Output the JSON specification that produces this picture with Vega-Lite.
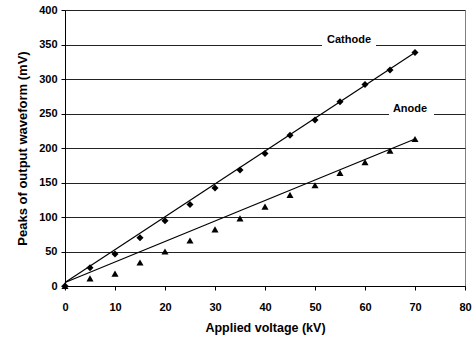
{
  "$schema": "https://vega.github.io/schema/vega-lite/v6.json",
  "width": 400,
  "height": 276,
  "autosize": {"type": "none"},
  "padding": {"left": 65, "top": 10, "right": 9, "bottom": 55},
  "background": "white",
  "config": {
    "font": "Liberation Sans",
    "view": {"stroke": "#808080", "strokeWidth": 1},
    "axis": {
      "labelFont": "Liberation Sans",
      "labelFontWeight": "bold",
      "labelFontSize": 11,
      "labelColor": "#000",
      "labelFlush": false,
      "titleFont": "Liberation Sans",
      "titleFontWeight": "bold",
      "titleColor": "#000",
      "domainColor": "#000",
      "tickColor": "#000",
      "tickSize": 4
    }
  },
  "datasets": {
    "points": [
      {"voltage": 0, "peak": 0, "electrode": "Cathode"},
      {"voltage": 5, "peak": 26.5, "electrode": "Cathode"},
      {"voltage": 10, "peak": 46.5, "electrode": "Cathode"},
      {"voltage": 15, "peak": 70, "electrode": "Cathode"},
      {"voltage": 20, "peak": 94.5, "electrode": "Cathode"},
      {"voltage": 25, "peak": 118, "electrode": "Cathode"},
      {"voltage": 30, "peak": 142, "electrode": "Cathode"},
      {"voltage": 35, "peak": 168, "electrode": "Cathode"},
      {"voltage": 40, "peak": 192, "electrode": "Cathode"},
      {"voltage": 45, "peak": 218.5, "electrode": "Cathode"},
      {"voltage": 50, "peak": 240.5, "electrode": "Cathode"},
      {"voltage": 55, "peak": 267, "electrode": "Cathode"},
      {"voltage": 60, "peak": 292, "electrode": "Cathode"},
      {"voltage": 65, "peak": 313, "electrode": "Cathode"},
      {"voltage": 70, "peak": 338.5, "electrode": "Cathode"},
      {"voltage": 0, "peak": 0, "electrode": "Anode"},
      {"voltage": 5, "peak": 11, "electrode": "Anode"},
      {"voltage": 10, "peak": 18, "electrode": "Anode"},
      {"voltage": 15, "peak": 34, "electrode": "Anode"},
      {"voltage": 20, "peak": 50, "electrode": "Anode"},
      {"voltage": 25, "peak": 66, "electrode": "Anode"},
      {"voltage": 30, "peak": 82, "electrode": "Anode"},
      {"voltage": 35, "peak": 98, "electrode": "Anode"},
      {"voltage": 40, "peak": 115, "electrode": "Anode"},
      {"voltage": 45, "peak": 132, "electrode": "Anode"},
      {"voltage": 50, "peak": 146, "electrode": "Anode"},
      {"voltage": 55, "peak": 164, "electrode": "Anode"},
      {"voltage": 60, "peak": 179.5, "electrode": "Anode"},
      {"voltage": 65, "peak": 196, "electrode": "Anode"},
      {"voltage": 70, "peak": 213, "electrode": "Anode"}
    ],
    "trend": [
      {"voltage": 0, "peak": 5, "electrode": "Cathode"},
      {"voltage": 70, "peak": 338.5, "electrode": "Cathode"},
      {"voltage": 0, "peak": 5, "electrode": "Anode"},
      {"voltage": 70, "peak": 213, "electrode": "Anode"}
    ],
    "labels": [
      {"electrode": "Cathode", "voltage": 56.8, "peak": 356, "x1": 51.4, "x2": 62.2, "y1": 346, "y2": 364},
      {"electrode": "Anode", "voltage": 69, "peak": 256, "x1": 64.8, "x2": 73.8, "y1": 246, "y2": 264}
    ]
  },
  "encoding": {
    "x": {
      "field": "voltage",
      "type": "quantitative",
      "scale": {"domain": [0, 80], "nice": false},
      "axis": {
        "title": "Applied voltage (kV)",
        "titleFontSize": 12.5,
        "values": [0, 10, 20, 30, 40, 50, 60, 70, 80],
        "grid": false,
        "labelPadding": 11,
        "titlePadding": 9
      }
    },
    "y": {
      "field": "peak",
      "type": "quantitative",
      "scale": {"domain": [0, 400], "nice": false},
      "axis": {
        "title": "Peaks of output waveform (mV)",
        "titleFontSize": 13,
        "values": [0, 50, 100, 150, 200, 250, 300, 350, 400],
        "grid": true,
        "gridColor": "#222",
        "gridWidth": 1,
        "labelPadding": 4,
        "titlePadding": 9
      }
    }
  },
  "layer": [
    {
      "data": {"name": "labels"},
      "mark": {"type": "rect", "fill": "white", "stroke": null},
      "encoding": {
        "x": {"field": "x1", "type": "quantitative"},
        "x2": {"field": "x2"},
        "y": {"field": "y1", "type": "quantitative"},
        "y2": {"field": "y2"}
      }
    },
    {
      "data": {"name": "trend"},
      "mark": {"type": "line", "color": "#000", "strokeWidth": 1.2},
      "encoding": {"detail": {"field": "electrode"}}
    },
    {
      "data": {"name": "points"},
      "mark": {"type": "point", "filled": true, "color": "#000", "opacity": 1},
      "encoding": {
        "shape": {
          "field": "electrode",
          "type": "nominal",
          "scale": {"domain": ["Cathode", "Anode"], "range": ["diamond", "triangle-up"]},
          "legend": null
        },
        "size": {"value": 50}
      }
    },
    {
      "data": {"name": "labels"},
      "mark": {"type": "text", "font": "Liberation Sans", "fontWeight": "bold", "fontSize": 11, "color": "#000"},
      "encoding": {"text": {"field": "electrode"}}
    }
  ]
}
